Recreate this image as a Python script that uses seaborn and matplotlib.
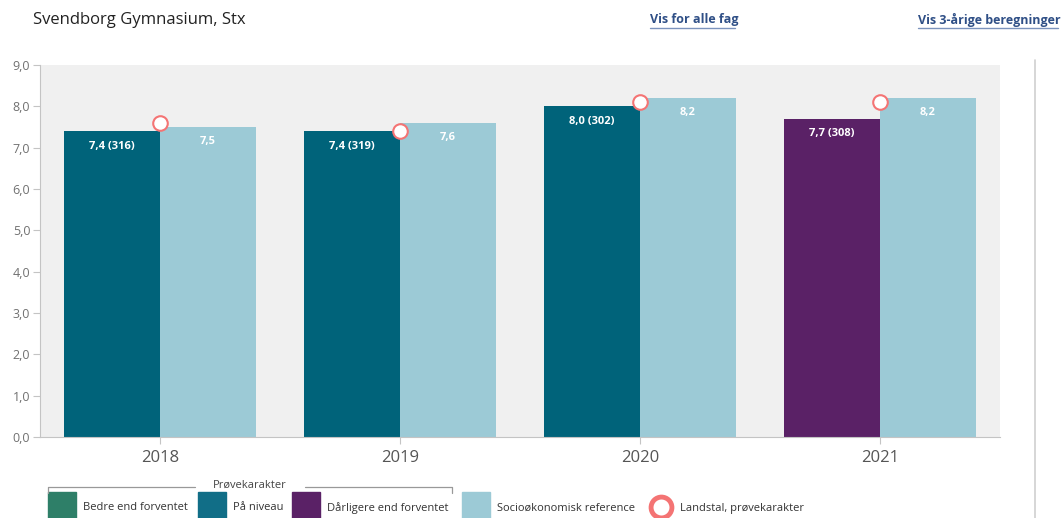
import seaborn as sns
import matplotlib.pyplot as plt
import matplotlib.patches as mpatches
from matplotlib.lines import Line2D
import pandas as pd

years = ["2018", "2019", "2020", "2021"]
skole = [7.4, 7.4, 8.0, 7.7]
antal = [316, 319, 302, 308]
status = ["På niveau", "På niveau", "På niveau", "Dårligere end forventet"]
reference = [7.5, 7.6, 8.2, 8.2]
landstal = [7.6, 7.4, 8.1, 8.1]
yticks = [0, 1, 2, 3, 4, 5, 6, 7, 8, 9]

status_farver = {
    "Bedre end forventet": "#2e7f68",
    "På niveau": "#00637a",
    "Dårligere end forventet": "#5a2166",
}
ref_farve = "#9ccad6"
ring_farve = "#f47474"

df = pd.DataFrame({
    "år": years * 2,
    "karakter": skole + reference,
    "serie": ["Skole"] * 4 + ["Reference"] * 4,
})

sns.set_style("white")
plt.rcParams["font.family"] = ["Open Sans", "DejaVu Sans"]

fig = plt.figure(figsize=(10.63, 5.18), dpi=100)
ax = fig.add_axes([40 / 1063, 1 - 437 / 518, 960 / 1063, 372 / 518])
ax.set_facecolor("#f0f0f0")

sns.barplot(data=df, x="år", y="karakter", hue="serie",
            palette={"Skole": "#00637a", "Reference": ref_farve},
            width=0.8, saturation=1, legend=False, ax=ax, linewidth=0)

# farv skolesøjler efter status
skole_bars = ax.containers[0]
for bar, st in zip(skole_bars, status):
    bar.set_facecolor(status_farver[st])

for bar, v, n in zip(ax.containers[0], skole, antal):
    ax.text(bar.get_x() + bar.get_width() / 2, v - 0.36,
            f"{v:.1f} ({n})".replace(".", ","), ha="center", va="center",
            color="white", fontsize=8, fontweight="bold")
for bar, v in zip(ax.containers[1], reference):
    ax.text(bar.get_x() + bar.get_width() / 2, v - 0.36,
            f"{v:.1f}".replace(".", ","), ha="center", va="center",
            color="white", fontsize=8, fontweight="bold")

sns.scatterplot(x=years, y=landstal, ax=ax, s=110, marker="o",
                facecolor="white", edgecolor=ring_farve, linewidth=1.5,
                zorder=5, legend=False)

ax.set_xlim(-0.5, 3.5)
ax.set_ylim(0, 9)
ax.set_yticks(yticks)
ax.set_yticklabels([f"{t:.1f}".replace(".", ",") for t in yticks])
ax.set_xlabel("")
ax.set_ylabel("")
for side in ["top", "right"]:
    ax.spines[side].set_visible(False)
for side in ["left", "bottom"]:
    ax.spines[side].set_color("#c4c4c4")
ax.tick_params(axis="y", length=5, color="#c4c4c4", labelsize=9,
               labelcolor="#707070", left=True, pad=2)
ax.tick_params(axis="x", length=5, color="#c4c4c4", labelsize=12,
               labelcolor="#555555", bottom=True, pad=4)

# overskrift og links
fig.text(33 / 1063, 1 - 20 / 518, "Svendborg Gymnasium, Stx", fontsize=12,
         color="#222222", va="center")
for x0, tekst in [(650, "Vis for alle fag"), (918, "Vis 3-årige beregninger")]:
    fig.text(x0 / 1063, 1 - 20 / 518, tekst, fontsize=9, color="#2f4f86",
             fontweight="bold", va="center")
fig.add_artist(Line2D([650 / 1063, 735 / 1063], [1 - 28 / 518] * 2,
                      color="#7b93bd", lw=1))
fig.add_artist(Line2D([918 / 1063, 1058 / 1063], [1 - 28 / 518] * 2,
                      color="#7b93bd", lw=1))

# lodret linje til højre
fig.add_artist(Line2D([1035 / 1063] * 2, [0, 1 - 60 / 518],
                      color="#d0d0d0", lw=1.2))

# forklaring
def fx(px):
    return px / 1063

def fy(py):
    return 1 - py / 518

fig.add_artist(Line2D([fx(48), fx(48), fx(195)], [fy(493), fy(487), fy(487)],
                      color="#999999", lw=0.9))
fig.add_artist(Line2D([fx(305), fx(452), fx(452)], [fy(487), fy(487), fy(493)],
                      color="#999999", lw=0.9))
fig.text(fx(250), fy(485), "Prøvekarakter", fontsize=8, color="#444444",
         ha="center", va="center")

legend_items = [
    (48, status_farver["Bedre end forventet"], "Bedre end forventet"),
    (198, "#116e87", "På niveau"),
    (292, status_farver["Dårligere end forventet"], "Dårligere end forventet"),
    (462, ref_farve, "Socioøkonomisk reference"),
]
for x0, farve, tekst in legend_items:
    fig.add_artist(mpatches.Rectangle((fx(x0), fy(520)), fx(28), 28 / 518,
                                      color=farve, transform=fig.transFigure))
    fig.text(fx(x0 + 35), fy(508), tekst, fontsize=8, color="#333333",
             va="center")

fig.add_artist(Line2D([fx(661)], [fy(507)], marker="o", markersize=15,
                      markerfacecolor="white", markeredgecolor=ring_farve,
                      markeredgewidth=3.5))
fig.text(fx(680), fy(508), "Landstal, prøvekarakter", fontsize=8,
         color="#333333", va="center")

fig.savefig("out.png", dpi=100)
